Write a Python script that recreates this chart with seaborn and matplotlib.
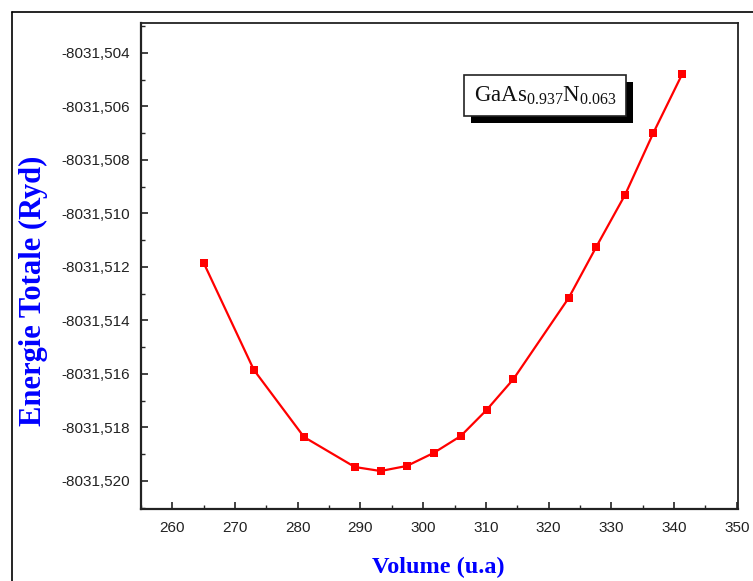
import matplotlib
matplotlib.use("Agg")
import matplotlib.pyplot as plt
import matplotlib.patheffects as pe
from matplotlib.ticker import FuncFormatter, MultipleLocator
from matplotlib.lines import Line2D
import seaborn as sns
import pandas as pd

volume = [265.0, 273.0, 281.0, 289.1, 293.2, 297.4, 301.7, 306.0, 310.1, 314.4,
          323.2, 327.6, 332.2, 336.7, 341.3]
energie = [-8031.51185, -8031.51585, -8031.51836, -8031.51948, -8031.51963,
           -8031.51944, -8031.51895, -8031.51832, -8031.51735, -8031.51619,
           -8031.51316, -8031.51125, -8031.50930, -8031.50699, -8031.50479]
x_ticks = [260, 270, 280, 290, 300, 310, 320, 330, 340, 350]
y_ticks = [-8031.520, -8031.518, -8031.516, -8031.514, -8031.512,
           -8031.510, -8031.508, -8031.506, -8031.504]
xlabel = "Volume (u.a)"
ylabel = "Energie Totale (Ryd)"
legend_text = r"GaAs$_{0.937}$N$_{0.063}$"

df = pd.DataFrame({"V": volume, "E": energie})

sns.set_style("ticks")
plt.rcParams["font.family"] = ["Liberation Sans", "DejaVu Sans"]
plt.rcParams["mathtext.fontset"] = "custom"
plt.rcParams["mathtext.rm"] = "Liberation Serif"
plt.rcParams["mathtext.it"] = "Liberation Serif"

fig = plt.figure(figsize=(7.53, 5.81), dpi=100)
ax = fig.add_axes([141/753, 1-509/581, (738-141)/753, (509-23)/581])

sns.lineplot(data=df, x="V", y="E", ax=ax, color="#ff0000", marker="s",
             markersize=6, markeredgewidth=0, linewidth=1.6, sort=False)

ax.set_xlim(255, 350.2)
ax.set_ylim(-8031.52105, -8031.50288)
ax.set_xticks(x_ticks)
ax.set_yticks(y_ticks)
ax.xaxis.set_minor_locator(MultipleLocator(5))
ax.yaxis.set_minor_locator(MultipleLocator(0.001))
ax.yaxis.set_major_formatter(FuncFormatter(lambda v, p: f"{v:.3f}".replace(".", ",")))
ax.xaxis.set_major_formatter(FuncFormatter(lambda v, p: f"{v:.0f}"))

ax.tick_params(axis="both", which="major", direction="in", length=5, width=1.2,
               labelsize=11, colors="#222222")
ax.tick_params(axis="both", which="minor", direction="in", length=3, width=1.0)
ax.tick_params(top=False, right=False, which="both")
ax.tick_params(axis="x", which="both", pad=9)
ax.tick_params(axis="y", which="both", pad=8)
for s in ax.spines.values():
    s.set_color("#222222")
ax.spines["left"].set_linewidth(1.6)
ax.spines["bottom"].set_linewidth(1.6)
ax.spines["top"].set_linewidth(1.3)
ax.spines["right"].set_linewidth(1.3)

ax.set_xlabel("")
ax.set_ylabel("")
fig.text(438/753, 1-567/581, xlabel, ha="center", va="center", color="#0000ff",
         fontsize=17.5, fontweight="bold", family=["Liberation Serif"])
fig.text(33/753, 1-291/581, ylabel, ha="center", va="center", color="#0000ff",
         fontsize=22, fontweight="bold", family=["Liberation Serif"], rotation=90)

t = ax.text(0.677, 0.851, legend_text, transform=ax.transAxes,
            ha="center", va="center", fontsize=16.5, color="#111111",
            family=["Liberation Serif"],
            bbox=dict(boxstyle="square,pad=0.42", facecolor="white",
                      edgecolor="#222222", linewidth=1.2))
t.get_bbox_patch().set_path_effects([
    pe.SimplePatchShadow(offset=(5, -5), shadow_rgbFace="black", alpha=1.0),
    pe.Normal()])

# outer frame (left and top edges)
fig.add_artist(Line2D([12/753, 12/753], [0, 1-12/581], transform=fig.transFigure,
                      color="black", linewidth=1.2))
fig.add_artist(Line2D([12/753, 1], [1-12/581, 1-12/581], transform=fig.transFigure,
                      color="black", linewidth=1.2))

fig.savefig("out.png", dpi=100, facecolor="white")
